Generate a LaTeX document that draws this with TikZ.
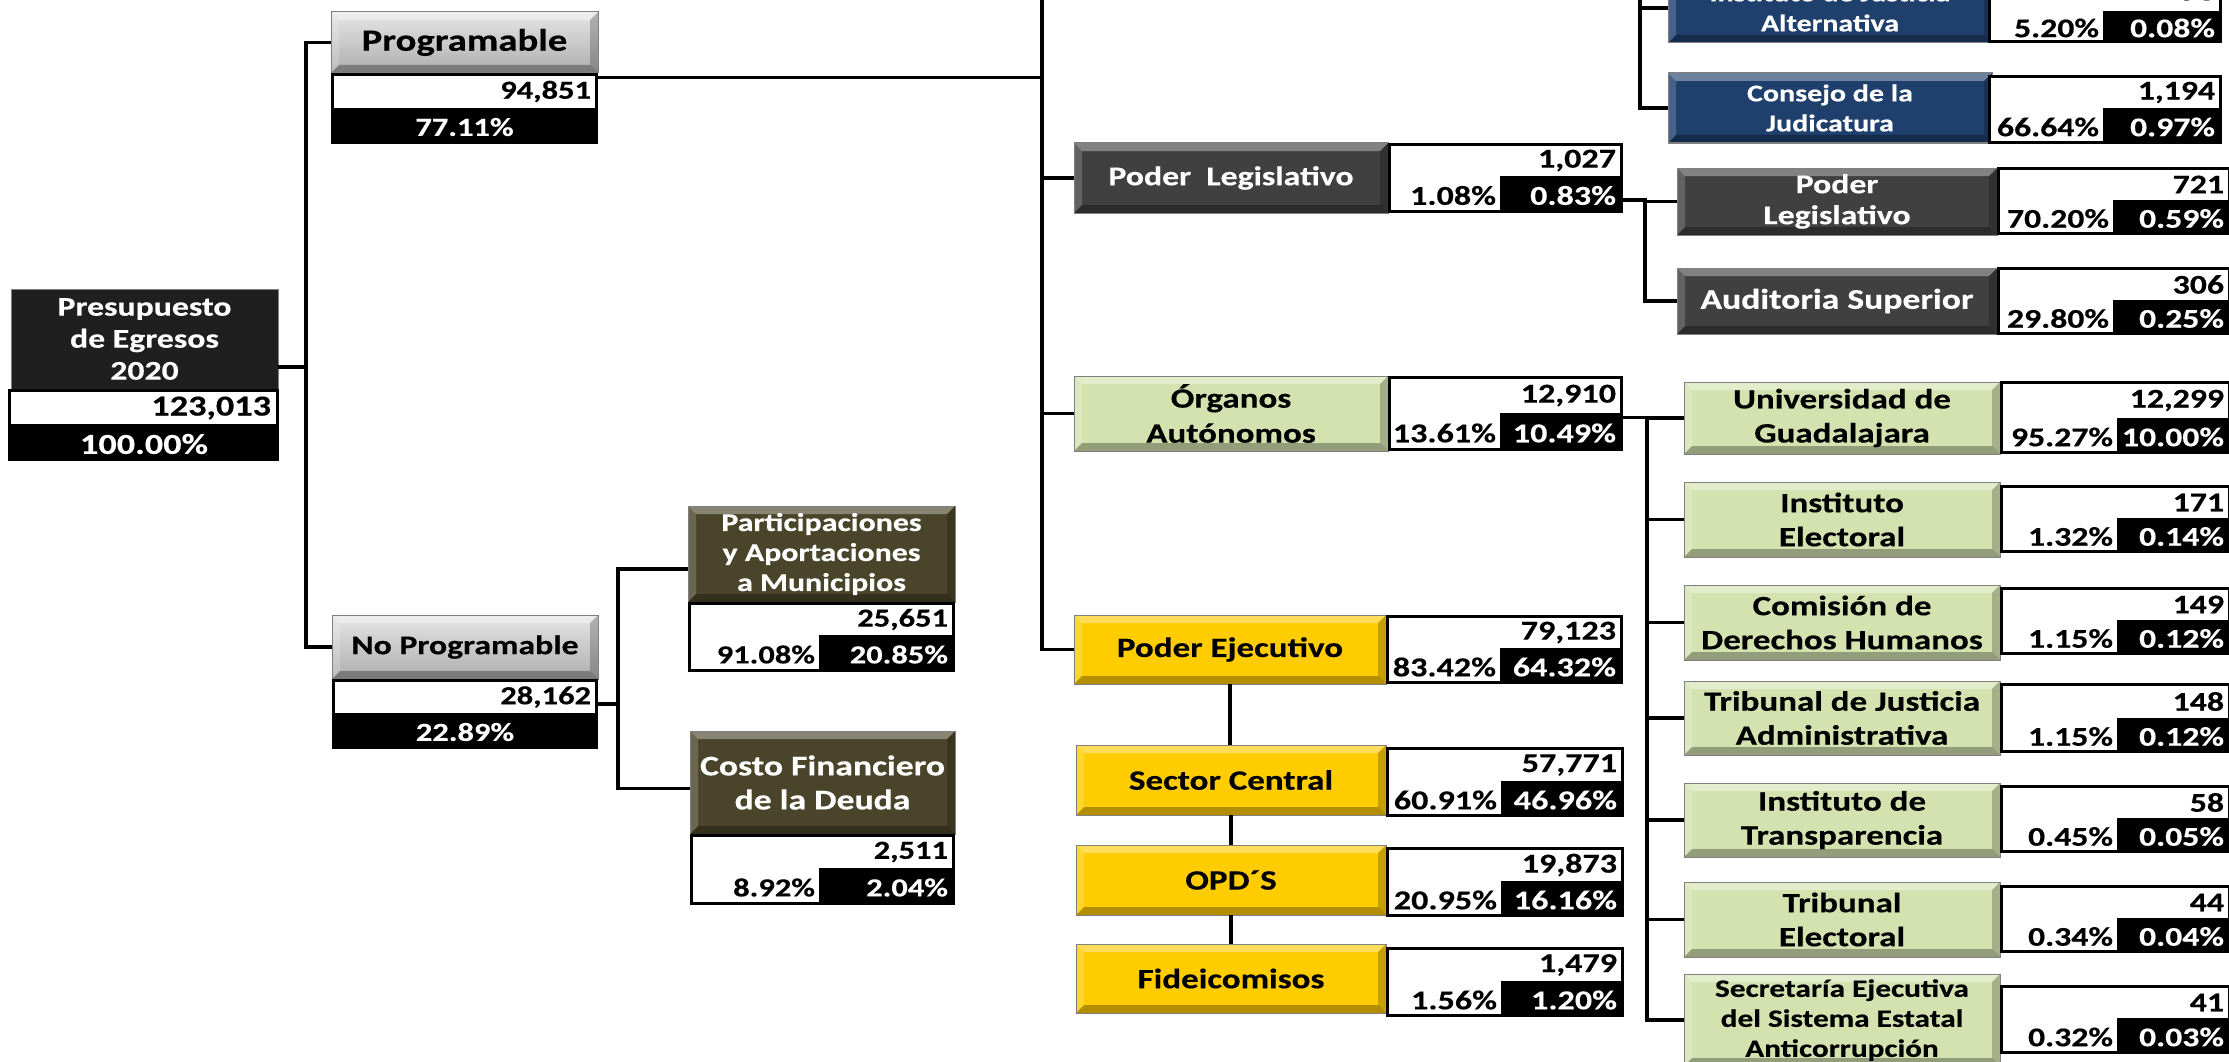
\documentclass[tikz,border=0pt]{standalone}
\usepackage{fontspec}
\setmainfont{Carlito}[FakeStretch=1.25, BoldFeatures={FakeBold=0.4}]
\definecolor{cPres}{HTML}{1F1F1F}
\definecolor{cOlive}{HTML}{4A452A}
\definecolor{cDark}{HTML}{404040}
\definecolor{cBlue}{HTML}{1F3F6D}
\definecolor{cGreen}{HTML}{D4E2B0}
\definecolor{cGold}{HTML}{FFCC00}
\tikzset{
  conn/.style={line width=3.5pt},
  bev/.style={path picture={
    \coordinate (pa) at (path picture bounding box.north west);
    \coordinate (pb) at (path picture bounding box.north east);
    \coordinate (pc) at (path picture bounding box.south east);
    \coordinate (pd) at (path picture bounding box.south west);
    \fill[white,opacity=.35] (pa) -- (pb) -- ([shift={(-8pt,-8pt)}]pb) -- ([shift={(8pt,-8pt)}]pa) -- cycle;
    \fill[white,opacity=.18] (pa) -- (pd) -- ([shift={(8pt,8pt)}]pd) -- ([shift={(8pt,-8pt)}]pa) -- cycle;
    \fill[black,opacity=.30] (pd) -- (pc) -- ([shift={(-8pt,8pt)}]pc) -- ([shift={(8pt,8pt)}]pd) -- cycle;
    \fill[black,opacity=.22] (pb) -- (pc) -- ([shift={(-8pt,8pt)}]pc) -- ([shift={(-8pt,-8pt)}]pb) -- cycle;
  }},
  box/.style={align=center, draw=black!50, line width=1pt},
  presbox/.style={box, fill=cPres, text=white, font=\bfseries\fontsize{27}{32}\selectfont},
  graybox/.style={box, bev, top color=black!10, bottom color=black!32, font=\bfseries\fontsize{27}{32}\selectfont},
  olbox/.style={box, bev, fill=cOlive, text=white},
  dkbox/.style={box, bev, fill=cDark, text=white, font=\bfseries\fontsize{27}{31}\selectfont},
  blbox/.style={box, bev, fill=cBlue, text=white, font=\bfseries\fontsize{24}{30}\selectfont},
  grbox/.style={box, bev, fill=cGreen, font=\bfseries\fontsize{28}{34}\selectfont},
  gdbox/.style={box, bev, fill=cGold, font=\bfseries\fontsize{28}{32}\selectfont},
  bigval/.style={font=\bfseries\fontsize{29}{32}\selectfont},
  valfont/.style={font=\bfseries\fontsize{26}{30}\selectfont},
}
\newcommand\bx[7]{\node[#6, anchor=north west, minimum width={(#4-(#2))*1pt}, minimum height={(#5-(#3))*1pt}] (#1) at (#2,#3) {#7};}
\newcommand\vfr[7]{%
  \node[fill=black, anchor=north west, minimum width={(#4-(#2))*1pt}, minimum height={(#5-(#3))*1pt}] (#1) at (#2,#3) {};
  \node[fill=white, anchor=north west, minimum width={(#4-(#2)-6)*1pt}, minimum height={(#6-(#3)-3)*1pt}] (#1v) at ({#2+3},{#3+3}) {};
  \node[anchor=east, valfont] (#1n) at ({#4-7},{(#3+#6)/2+1}) {#7};
  \gdef\fx{#2}\gdef\fy{#6}\gdef\fxx{#4}\gdef\fyy{#5}}
\newcommand\pc[4]{%
  \node[fill=white, anchor=north west, minimum width={(#2-\fx-3)*1pt}, minimum height={(\fyy-\fy-3)*1pt}] (#1w) at ({\fx+3},\fy) {};
  \node[anchor=east, valfont] (#1a) at ({#2-4},{(\fy+\fyy)/2+1}) {#3};
  \node[anchor=east, text=white, valfont] (#1b) at ({\fxx-7},{(\fy+\fyy)/2+1}) {#4};}
\newcommand\pcc[2]{\node[text=white, valfont] (#1a) at ({(\fx+\fxx)/2},{(\fy+\fyy)/2+1}) {#2};}
\begin{document}
\begin{tikzpicture}[x=1pt,y=-1pt, every node/.style={inner sep=0pt, outer sep=0pt}, font=\bfseries\fontsize{26}{30}\selectfont]
\useasboundingbox (0,0) rectangle (2229,1062);
\clip (0,0) rectangle (2229,1062);
\fill[white] (0,0) rectangle (2229,1062);

% root
\bx{pres}{11}{289}{278}{389}{presbox}{Presupuesto\\de Egresos\\2020}
\node[fill=black, anchor=north west, minimum width=271pt, minimum height=72pt] (presf) at (8,389) {};
\node[fill=white, anchor=north west, minimum width=265pt, minimum height=32pt] (presfv) at (11,392) {};
\node[anchor=east, bigval] (presfn) at (271,408) {123,013};
\node[text=white, bigval] (presfa) at (144,444) {100.00\%};

\bx{prog}{331}{12}{598}{73}{graybox,font=\bfseries\fontsize{31}{34}\selectfont}{Programable}
\vfr{progf}{331}{73}{598}{144}{108}{94,851}
\pcc{progf}{77.11\%}

\bx{noprog}{332}{615}{598}{679}{graybox}{No Programable}
\vfr{noprogf}{332}{679}{598}{749}{713}{28,162}
\pcc{noprogf}{22.89\%}

\bx{part}{688}{506}{955}{602}{olbox,font=\bfseries\fontsize{25.5}{30}\selectfont}{Participaciones\\y Aportaciones\\a Municipios}
\vfr{partf}{688}{602}{955}{672}{635}{25,651}
\pc{partf}{819}{91.08\%}{20.85\%}

\bx{costo}{690}{731}{955}{834}{olbox,font=\bfseries\fontsize{28.5}{34}\selectfont}{Costo Financiero\\de la Deuda}
\vfr{costof}{690}{834}{955}{905}{868}{2,511}
\pc{costof}{819}{8.92\%}{2.04\%}

% central column values a little larger
\tikzset{valfont/.style={font=\bfseries\fontsize{27.3}{30}\selectfont}}

\bx{pl}{1074}{143}{1388}{213}{dkbox}{Poder\ \ Legislativo}
\vfr{plf}{1388}{143}{1623}{213}{176}{1,027}
\pc{plf}{1500}{1.08\%}{0.83\%}

\bx{oa}{1074}{376}{1388}{451}{grbox,font=\bfseries\fontsize{28}{35}\selectfont}{Órganos\\Autónomos}
\vfr{oaf}{1388}{376}{1623}{451}{413}{12,910}
\pc{oaf}{1500}{13.61\%}{10.49\%}

\bx{pe}{1074}{615}{1386}{684}{gdbox}{Poder Ejecutivo}
\vfr{pef}{1386}{615}{1623}{684}{648}{79,123}
\pc{pef}{1500}{83.42\%}{64.32\%}

\bx{sc}{1076}{745}{1386}{815}{gdbox}{Sector Central}
\vfr{scf}{1386}{747}{1624}{817}{781}{57,771}
\pc{scf}{1501}{60.91\%}{46.96\%}

\bx{opd}{1076}{845}{1386}{915}{gdbox}{OPD´S}
\vfr{opdf}{1386}{847}{1624}{917}{881}{19,873}
\pc{opdf}{1501}{20.95\%}{16.16\%}

\bx{fid}{1076}{944}{1386}{1013}{gdbox}{Fideicomisos}
\vfr{fidf}{1386}{947}{1624}{1017}{981}{1,479}
\pc{fidf}{1501}{1.56\%}{1.20\%}

% right column
\tikzset{valfont/.style={font=\bfseries\fontsize{27}{30}\selectfont}}

\bx{pls}{1677}{168}{1997}{235}{dkbox}{Poder\\Legislativo}
\vfr{plsf}{1997}{167}{2231}{235}{200}{721}
\pc{plsf}{2113}{70.20\%}{0.59\%}

\bx{aud}{1677}{268}{1997}{334}{dkbox,font=\bfseries\fontsize{28.5}{31}\selectfont}{Auditoria Superior}
\vfr{audf}{1997}{267}{2231}{335}{300}{306}
\pc{audf}{2113}{29.80\%}{0.25\%}

\bx{ija}{1668}{-27}{1992}{43}{blbox}{Instituto de Justicia\\Alternativa}
\vfr{ijaf}{1988}{-30}{2222}{43}{11}{93}
\pc{ijaf}{2103}{5.20\%}{0.08\%}

\bx{cj}{1668}{73}{1992}{143}{blbox}{Consejo de la\\Judicatura}
\vfr{cjf}{1988}{75}{2222}{144}{108}{1,194}
\pc{cjf}{2103}{66.64\%}{0.97\%}

\bx{udg}{1684}{382}{2000}{454}{grbox}{Universidad de\\Guadalajara}
\vfr{udgf}{2000}{381}{2231}{454}{418}{12,299}
\pc{udgf}{2117}{95.27\%}{10.00\%}

\bx{ie}{1684}{482}{2000}{557}{grbox}{Instituto\\Electoral}
\vfr{ief}{2000}{485}{2231}{553}{518}{171}
\pc{ief}{2117}{1.32\%}{0.14\%}

\bx{cdh}{1684}{585}{2000}{660}{grbox}{Comisión de\\Derechos Humanos}
\vfr{cdhf}{2000}{587}{2231}{655}{620}{149}
\pc{cdhf}{2117}{1.15\%}{0.12\%}

\bx{tja}{1684}{681}{2000}{755}{grbox}{Tribunal de Justicia\\Administrativa}
\vfr{tjaf}{2000}{683}{2231}{753}{718}{148}
\pc{tjaf}{2117}{1.15\%}{0.12\%}

\bx{itr}{1684}{783}{2000}{857}{grbox}{Instituto de\\Transparencia}
\vfr{itrf}{2000}{785}{2231}{853}{818}{58}
\pc{itrf}{2117}{0.45\%}{0.05\%}

\bx{tel}{1684}{882}{2000}{957}{grbox}{Tribunal\\Electoral}
\vfr{telf}{2000}{885}{2231}{953}{918}{44}
\pc{telf}{2117}{0.34\%}{0.04\%}

\bx{sea}{1684}{974}{2000}{1066}{grbox,font=\bfseries\fontsize{25}{30}\selectfont}{Secretaría Ejecutiva\\del Sistema Estatal\\Anticorrupción}
\vfr{seaf}{2000}{985}{2231}{1054}{1018}{41}
\pc{seaf}{2117}{0.32\%}{0.03\%}

% connectors
\coordinate (bus1) at (306,0);
\coordinate (bus2) at (618,0);
\coordinate (bus3) at (1042,-5);
\coordinate (bus4) at (1645,0);
\coordinate (bus5) at (1640,-5);
\coordinate (bus6) at (1647,0);

\draw[conn] ([yshift=-28pt]pres.east) -- ([yshift=-28pt]pres.east -| bus1);
\draw[conn] (prog.west) -- (prog.west -| bus1) -- (noprog.west -| bus1) -- (noprog.west);
\draw[conn] ([yshift=10pt]noprogf.east) -- ([yshift=10pt]noprogf.east -| bus2);
\draw[conn] ([yshift=-15pt]part.west) -- ([yshift=-15pt]part.west -| bus2) -- ([yshift=-6pt]costo.west -| bus2) -- ([yshift=-6pt]costo.west);
\draw[conn] ([yshift=31pt]progf.east) -- ([yshift=31pt]progf.east -| bus3);
\draw[conn] (bus3) -- (pe.west -| bus3) -- (pe.west);
\draw[conn] (pl.west -| bus3) -- (pl.west);
\draw[conn] (oa.west -| bus3) -- (oa.west);
\draw[conn] ([yshift=-22pt]plf.east) -- ([yshift=-22pt]plf.east -| bus4) -- (aud.west -| bus4) -- (aud.west);
\draw[conn] (pls.west -| bus4) -- (pls.west);
\draw[conn] (bus5) -- (cj.west -| bus5) -- (cj.west);
\draw[conn] (ija.west -| bus5) -- (ija.west);
\draw[conn] ([yshift=-4pt]oaf.east) -- ([yshift=-4pt]oaf.east -| bus6) -- (sea.west -| bus6) -- (sea.west);
\foreach \n in {udg,ie,cdh,tja,itr,tel} \draw[conn] (\n.west -| bus6) -- (\n.west);
\draw[conn] (pe.south) -- (pe.south |- sc.north);
\draw[conn] (sc.south) -- (sc.south |- opd.north);
\draw[conn] (opd.south) -- (opd.south |- fid.north);
\end{tikzpicture}
\end{document}
